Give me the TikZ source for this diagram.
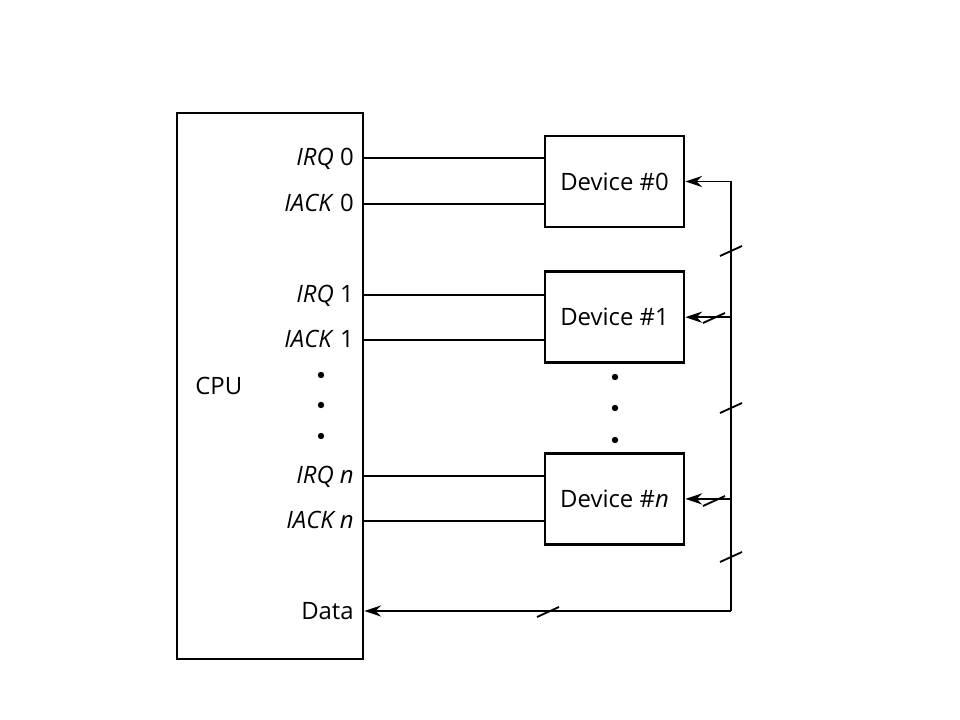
\documentclass[tikz,border=0pt]{standalone}
\usepackage{fontspec}
\setmainfont{Open Sans}
\usepackage{tikz}
\usetikzlibrary{positioning,arrows.meta,calc}

\begin{document}
\begin{tikzpicture}[
  x=0.025cm,y=-0.025cm,
  >={Stealth[length=4.2mm,width=2.8mm]},
  font=\fontsize{17}{20}\selectfont,
  box/.style={draw,line width=1.9pt,inner sep=0pt,align=center},
  devbox/.style={box,minimum width=3.475cm,minimum height=2.275cm},
  sig/.style={anchor=base east,inner sep=0pt},
  wire/.style={line width=1.3pt},
  slash/.style={line width=1.3pt},
  dot/.style={circle,fill=black,inner sep=0pt,minimum size=0.16cm}
]
  \useasboundingbox (0,0) rectangle (960,720);

  % CPU side
  \node[box,minimum width=4.65cm,minimum height=13.65cm] (cpu) at (270,386) {};
  \node[anchor=base west,inner sep=0pt] (cpulabel) at (195,395) {CPU};
  \node[sig] (irq0)  at (354,166) {\textit{IRQ} 0};
  \node[sig] (iack0) at (354,212) {\textit{IACK} 0};
  \node[sig] (irq1)  at (354,303) {\textit{IRQ} 1};
  \node[sig] (iack1) at (354,348) {\textit{IACK} 1};
  \node[sig] (irqn)  at (354,484) {\textit{IRQ n}};
  \node[sig] (iackn) at (354,529) {\textit{IACK n}};
  \node[sig] (data)  at (354,619) {Data};
  \foreach \y in {375,405,436}
    \node[dot] (cdot\y) at (321,\y) {};

  % devices
  \node[devbox] (dev0) at (614.5,181.5) {Device \#0};
  \node[devbox,below=1.05cm of dev0] (dev1) {Device \#1};
  \node[devbox,below=2.2cm of dev1] (devn) {Device \#\textit{n}};
  \foreach \y in {377,408,440}
    \node[dot] (ddot\y) at (615,\y) {};

  % request / acknowledge lines
  \foreach \d/\y in {dev0/158,dev0/204,dev1/295,dev1/340,devn/476,devn/521}
    \draw[wire] (cpu.east |- 0,\y) -- (\d.west |- 0,\y);

  % data bus
  \coordinate (bustop) at (731,181.5);
  \coordinate (busbot) at (731,611);
  \draw[wire,->] (bustop) -- (dev0.east);
  \draw[wire] (bustop) -- (busbot);
  \draw[wire,->] (dev1.east -| bustop) -- (dev1.east);
  \draw[wire,->] (devn.east -| bustop) -- (devn.east);
  \draw[wire,->] (busbot) -- (busbot -| cpu.east);

  \foreach \p in {(731,251),(731,408),(731,557),(714,318),(714,501),(548,612)}
    \draw[slash] \p ++(-11,5) -- ++(22,-10);
\end{tikzpicture}
\end{document}
